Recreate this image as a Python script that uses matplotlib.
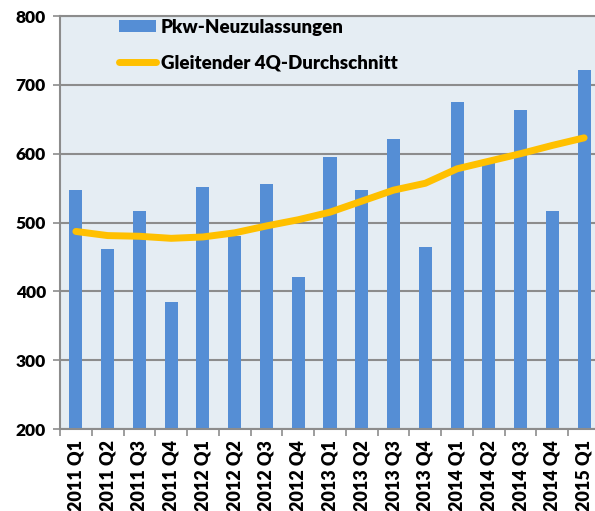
import numpy as np
import matplotlib
matplotlib.use("Agg")
import matplotlib.pyplot as plt
from matplotlib.patches import Patch
from matplotlib.lines import Line2D

quarters = ["2011 Q1", "2011 Q2", "2011 Q3", "2011 Q4",
            "2012 Q1", "2012 Q2", "2012 Q3", "2012 Q4",
            "2013 Q1", "2013 Q2", "2013 Q3", "2013 Q4",
            "2014 Q1", "2014 Q2", "2014 Q3", "2014 Q4",
            "2015 Q1"]
neuzulassungen = [547, 461, 517, 384, 552, 481, 556, 421, 595,
                  547, 621, 465, 675, 586, 663, 516, 722]
gleitend = [487, 481, 480, 477, 479, 485, 495, 504, 515,
            531, 547, 557, 578, 589, 600, 612, 623]

BAR_COLOR = "#558ED5"
LINE_COLOR = "#FFC000"
GRID = "#8C8C8C"

plt.rcParams['font.family'] = ['Lato', 'DejaVu Sans']
FS = 12.5
W = "heavy"

fig = plt.figure(figsize=(5.95, 5.11), dpi=100)
ax = fig.add_axes([60/595, 82/511, 540/595, 413/511])
ax.set_facecolor("#E5EDF3")

x = np.arange(len(quarters))
ax.bar(x, neuzulassungen, width=0.41, color=BAR_COLOR, zorder=2)
ax.plot(x, gleitend, color=LINE_COLOR, lw=5, solid_capstyle="round",
        solid_joinstyle="round", zorder=3)

ax.set_ylim(200, 800)
ax.set_xlim(-0.5, len(quarters) - 0.5)
ax.set_yticks(range(200, 801, 100))
ax.yaxis.grid(True, color=GRID, lw=1.5, zorder=1)
ax.set_axisbelow(True)

ax.set_xticks(x)
ax.set_xticklabels(quarters, rotation=90, fontsize=13, fontweight=W)
ax.set_xticks(np.arange(len(quarters) + 1) - 0.5, minor=True)
ax.tick_params(axis="x", which="major", length=0, pad=8)
ax.tick_params(axis="x", which="minor", length=5, width=1.2, color=GRID)
ax.tick_params(axis="y", length=5, width=1.2, color=GRID, labelsize=FS, pad=5)
for lbl in ax.get_yticklabels():
    lbl.set_fontweight(W)

for side in ["left", "bottom", "top"]:
    ax.spines[side].set_color(GRID)
    ax.spines[side].set_linewidth(1.5)
ax.spines["right"].set_visible(False)

handles = [Patch(facecolor=BAR_COLOR, label="Pkw-Neuzulassungen"),
           Line2D([0], [0], color=LINE_COLOR, lw=5, solid_capstyle="round",
                  label="Gleitender 4Q-Durchschnitt")]
ax.legend(handles=handles, loc="upper left", bbox_to_anchor=(0.078, 1.034),
          frameon=False, prop={"weight": W, "size": 13.5},
          handlelength=1.95, handleheight=0.6, handletextpad=0.27,
          labelspacing=1.0)

fig.savefig("out.png", dpi=100)
